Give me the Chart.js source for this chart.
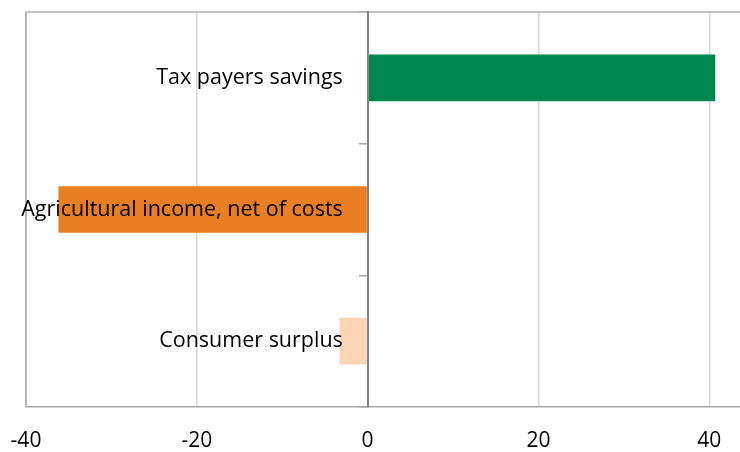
<!DOCTYPE html>
<html>
<head>
<meta charset="utf-8">
<script src="https://cdn.jsdelivr.net/npm/chart.js@4"></script>
<style>
  html,body{margin:0;padding:0;background:#fff;}
  #wrap{width:740px;height:452px;}
</style>
</head>
<body>
<div id="wrap"><canvas id="chart"></canvas></div>
<script>
const categories=['Tax payers savings','Agricultural income, net of costs','Consumer surplus'];
const values=[40.7,-36.2,-3.3];
const barColors=['#008751','#e97e22','#fcd5b4'];
const xTicks=[-40,-20,0,20,40];

// frame on top and left edges of the plot
const frame={
  id:'frame',
  beforeDatasetsDraw(chart){
    const {ctx,chartArea:a}=chart;
    ctx.save();
    ctx.strokeStyle='#b0b0b0';ctx.lineWidth=1.5;
    ctx.beginPath();
    ctx.moveTo(a.left,a.bottom);ctx.lineTo(a.left,a.top);ctx.lineTo(a.right,a.top);
    ctx.stroke();
    ctx.restore();
  }
};

const fam='"Open Sans", "Noto Sans", sans-serif';
const noPadY=s=>{s.paddingTop=0;s.paddingBottom=0;};

new Chart(document.getElementById('chart'),{
  type:'bar',
  data:{labels:categories,datasets:[{data:values,backgroundColor:barColors,categoryPercentage:1,barPercentage:0.355}]},
  options:{
    indexAxis:'y',responsive:true,maintainAspectRatio:false,animation:false,
    layout:{padding:{left:26,top:12,right:0,bottom:0}},
    plugins:{legend:{display:false},tooltip:{enabled:false}},
    scales:{
      x:{min:-40,max:43.6,
        afterBuildTicks:s=>{s.ticks=xTicks.map(v=>({value:v}));},
        afterFit:s=>{s.paddingLeft=0;s.paddingRight=0;s.height=45;},
        ticks:{font:{family:fam,size:21},color:'#000',padding:21},
        grid:{color:c=>c.tick&&c.tick.value===-40?'#b0b0b0':'#d9d9d9',lineWidth:1.5,drawTicks:false},
        border:{color:'#a6a6a6',width:1.5}},
      y:{position:{x:0},afterFit:noPadY,
        ticks:{display:false},
        grid:{offset:true,drawOnChartArea:false,tickLength:8,color:'#a6a6a6',lineWidth:1.5},
        border:{color:'#868686',width:2,z:1}},
      yLabels:{type:'category',labels:categories,offset:true,position:{x:-2.9},afterFit:noPadY,
        ticks:{font:{family:fam,size:21.5},color:'#000',z:1},
        grid:{display:false},border:{display:false}}
    }
  },
  plugins:[frame]
});
</script>
</body>
</html>
